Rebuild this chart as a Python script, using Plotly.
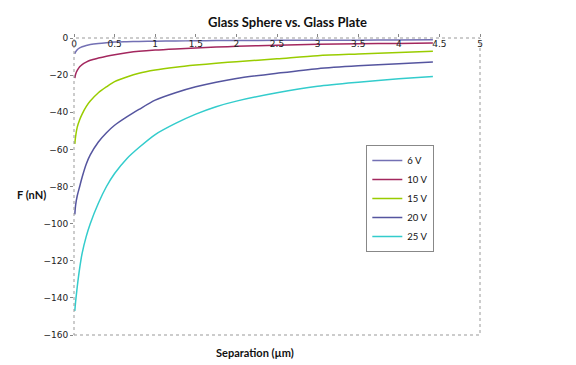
import plotly.graph_objects as go

# separation (um)
separation = [0.01, 0.02, 0.04, 0.07, 0.1, 0.15, 0.2, 0.3, 0.4, 0.5, 0.65, 0.8,
              1.0, 1.25, 1.5, 1.75, 2.0, 2.5, 3.0, 3.5, 4.0, 4.42]

# force (nN) for each voltage
f_6v = [-8.5, -7.5, -6.3, -5.3, -4.7, -4.0, -3.5, -2.9, -2.5, -2.2, -2.0, -1.85,
        -1.7, -1.6, -1.5, -1.4, -1.35, -1.25, -1.2, -1.15, -1.1, -1.0]
f_10v = [-21.6, -19.5, -17.5, -15.5, -14.3, -13, -12, -10.8, -9.8, -9, -8, -7.2,
         -6.5, -5.9, -5.4, -4.9, -4.5, -3.9, -3.4, -3.1, -2.9, -2.7]
f_15v = [-57, -53, -48, -44, -41, -37, -34, -29.5, -26.3, -23.5, -21, -19,
         -17.3, -15.8, -14.6, -13.6, -12.8, -11.2, -9.5, -8.6, -7.8, -7.2]
f_20v = [-95, -90, -85, -80, -75, -68, -63, -56, -51, -47, -42.5, -38.5,
         -33.5, -29.5, -26.3, -23.8, -21.8, -19, -16.5, -15, -13.9, -12.9]
f_25v = [-147, -142, -134, -124, -116, -107, -100, -89, -80, -73, -65, -59,
         -52, -46, -41, -37, -34, -29.5, -26, -23.8, -22, -20.7]

series = [
    ("6 V", f_6v, "#7370b4"),
    ("10 V", f_10v, "#a3275e"),
    ("15 V", f_15v, "#99cc00"),
    ("20 V", f_20v, "#55559f"),
    ("25 V", f_25v, "#33cccc"),
]

fig = go.Figure()
for name, vals, col in series:
    fig.add_trace(go.Scatter(x=separation, y=vals, name=name, mode="lines",
                             line=dict(color=col, width=1.5, shape="spline", smoothing=0.8)))

tick_font = dict(family="DejaVu Sans", size=9, color="#222")

# page body has an 8px margin, so the figure is a bit smaller than the window
fig.update_layout(
    width=568, height=357,
    margin=dict(l=66, r=96, t=30, b=30, autoexpand=False),
    paper_bgcolor="white", plot_bgcolor="white",
    showlegend=True,
    legend=dict(x=0.72, y=0.64, xanchor="left", yanchor="top",
                bordercolor="#888", borderwidth=1, bgcolor="white",
                font=dict(family="Lato", size=9.5, color="#111"),
                tracegroupgap=0, itemwidth=30),
    font=dict(family="DejaVu Sans"),
)

fig.update_xaxes(range=[0, 5], dtick=0.5, side="top", ticklabelposition="inside",
                 ticklabeloverflow="allow",
                 showgrid=False, zeroline=False, showline=False,
                 ticks="outside", ticklen=3, tickcolor="#888",
                 tickfont=tick_font)
fig.update_yaxes(range=[-160, 0], dtick=20, showgrid=False, zeroline=False,
                 showline=False, ticks="outside", ticklen=3, tickcolor="#888",
                 tickfont=tick_font)

# plot area border (dotted, Excel style)
fig.add_shape(type="rect", xref="paper", yref="paper", x0=0, y0=0, x1=1, y1=1,
              line=dict(color="#999", width=1, dash="dot"))

fig.add_annotation(text="<b>Glass Sphere vs. Glass Plate</b>", xref="paper", yref="paper",
                   x=(287 - 74) / 406, y=1 + (38 - 22) / 297, yanchor="middle",
                   showarrow=False, font=dict(family="Lato", size=13, color="#111"))
fig.add_annotation(text="<b>Separation (µm)</b>", xref="paper", yref="paper",
                   x=(255 - 74) / 406, y=-(352 - 335) / 297, yanchor="middle",
                   showarrow=False, font=dict(family="Lato", size=11, color="#111"))
fig.add_annotation(text="<b>F (nN)</b>", xref="paper", yref="paper",
                   x=-(74 - 15) / 406, xanchor="left", y=(335 - 195) / 297, yanchor="middle",
                   showarrow=False, font=dict(family="Lato", size=11, color="#111"))

fig.write_html("out.html")
